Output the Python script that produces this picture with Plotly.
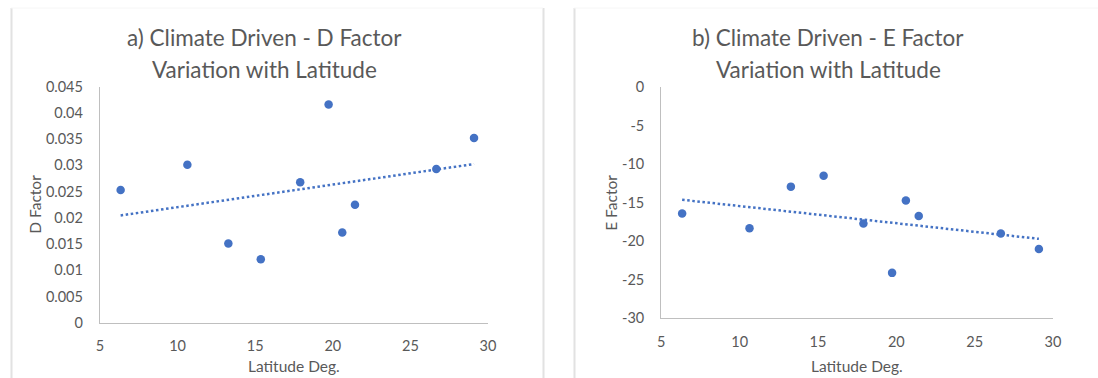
import numpy as np
import plotly.graph_objects as go

# Site latitudes (degrees) and the climate-driven D and E factors at each site
latitude = [6.33, 10.63, 13.27, 15.36, 17.90, 19.73, 20.61, 21.43, 26.67, 29.10]
d_factor = [0.0253, 0.0301, 0.0151, 0.0121, 0.0268, 0.0416, 0.0172, 0.0225, 0.0293, 0.0352]
e_factor = [-16.4, -18.3, -12.9, -11.5, -17.7, -24.1, -14.7, -16.7, -19.0, -21.0]

x_ticks = [5, 10, 15, 20, 25, 30]
d_ticks = [0, 0.005, 0.01, 0.015, 0.02, 0.025, 0.03, 0.035, 0.04, 0.045]
d_tick_text = ["0", "0.005", "0.01", "0.015", "0.02", "0.025", "0.03", "0.035", "0.04", "0.045"]
e_ticks = [-30, -25, -20, -15, -10, -5, 0]
e_tick_text = ["-30", "-25", "-20", "-15", "-10", "-5", "0"]

title_lines = [["a) Climate Driven - D Factor", "Variation with Latitude"],
               ["b) Climate Driven - E Factor", "Variation with Latitude"]]
y_titles = ["D Factor", "E Factor"]
x_title = "Latitude Deg."

W, H = 1098, 378
BLUE = "#4472C4"
TEXT = "#595959"
AXIS = "#BFBFBF"
FONT = "Lato"


def px(x):
    return x / W


def py(y):
    return 1 - y / H


fig = go.Figure()

# plot-area boxes in pixel space: (left, right, top, bottom)
boxes = [(100, 488, 86.7, 322.7), (661.3, 1053, 87.3, 318.3)]
series = [d_factor, e_factor]

lat = np.array(latitude)
for i, vals in enumerate(series):
    xa = "x" if i == 0 else "x2"
    ya = "y" if i == 0 else "y2"
    slope, icpt = np.polyfit(lat, np.array(vals), 1)
    xs = np.array([lat.min(), lat.max()])
    fig.add_trace(go.Scatter(x=xs, y=slope * xs + icpt, mode="lines",
                             line=dict(color=BLUE, width=2.5, dash="2.5px,2.6px"),
                             xaxis=xa, yaxis=ya, hoverinfo="skip"))
    fig.add_trace(go.Scatter(x=latitude, y=vals, mode="markers",
                             marker=dict(color=BLUE, size=8.5),
                             xaxis=xa, yaxis=ya))

common_x = dict(range=[5, 30], tickvals=x_ticks, showgrid=False, zeroline=False,
                showline=True, linecolor=AXIS, linewidth=1.3, ticks="",
                tickfont=dict(family=FONT, size=14.5, color=TEXT), ticklabelstandoff=10,
                fixedrange=True, automargin=False)
common_y = dict(showgrid=False, zeroline=False, showline=True, linecolor=AXIS,
                linewidth=1.3, ticks="", tickfont=dict(family=FONT, size=14.5, color=TEXT),
                ticklabelstandoff=13, fixedrange=True, automargin=False)

l0, r0, t0, b0 = boxes[0]
l1, r1, t1, b1 = boxes[1]
fig.update_layout(
    width=W, height=H, margin=dict(l=0, r=0, t=0, b=0, pad=0, autoexpand=False),
    paper_bgcolor="white", plot_bgcolor="white", showlegend=False,
    xaxis=dict(domain=[px(l0), px(r0)], anchor="y", **common_x),
    yaxis=dict(domain=[py(b0), py(t0)], anchor="x", range=[0, 0.045],
               tickvals=d_ticks, ticktext=d_tick_text, **common_y),
    xaxis2=dict(domain=[px(l1), px(r1)], anchor="y2", **common_x),
    yaxis2=dict(domain=[py(b1), py(t1)], anchor="x2", range=[-30, 0],
                tickvals=e_ticks, ticktext=e_tick_text, **common_y),
)

# chart frames
for x0 in [11.5, 543.5, 574.5]:
    fig.add_shape(type="line", xref="paper", yref="paper",
                  x0=px(x0), x1=px(x0), y0=0, y1=py(8),
                  line=dict(color="#E2E2E2", width=2))
fig.add_shape(type="line", xref="paper", yref="paper", x0=px(11), x1=px(543), y0=py(8), y1=py(8),
              line=dict(color="#F6F6F6", width=1))
fig.add_shape(type="line", xref="paper", yref="paper", x0=px(574), x1=1, y0=py(8), y1=py(8),
              line=dict(color="#F6F6F6", width=1))

# chart titles and axis titles
for i, (box, cx) in enumerate(zip(boxes, [264, 828])):
    left, right, top, bottom = box
    for line_text, ly in zip(title_lines[i], [38, 70]):
        fig.add_annotation(text=line_text, xref="paper", yref="paper", x=px(cx), y=py(ly),
                           showarrow=False, xanchor="center", yanchor="middle",
                           font=dict(family=FONT, size=22.5, color=TEXT))
    fig.add_annotation(text=x_title, xref="paper", yref="paper",
                       x=px((left + right) / 2), y=py(366), showarrow=False,
                       xanchor="center", yanchor="middle",
                       font=dict(family=FONT, size=15.5, color=TEXT))
    fig.add_annotation(text=y_titles[i], xref="paper", yref="paper",
                       x=px([35, 611][i]), y=py((top + bottom) / 2), showarrow=False,
                       textangle=-90, xanchor="center", yanchor="middle",
                       font=dict(family=FONT, size=15.5, color=TEXT))

fig.write_html("out.html")
